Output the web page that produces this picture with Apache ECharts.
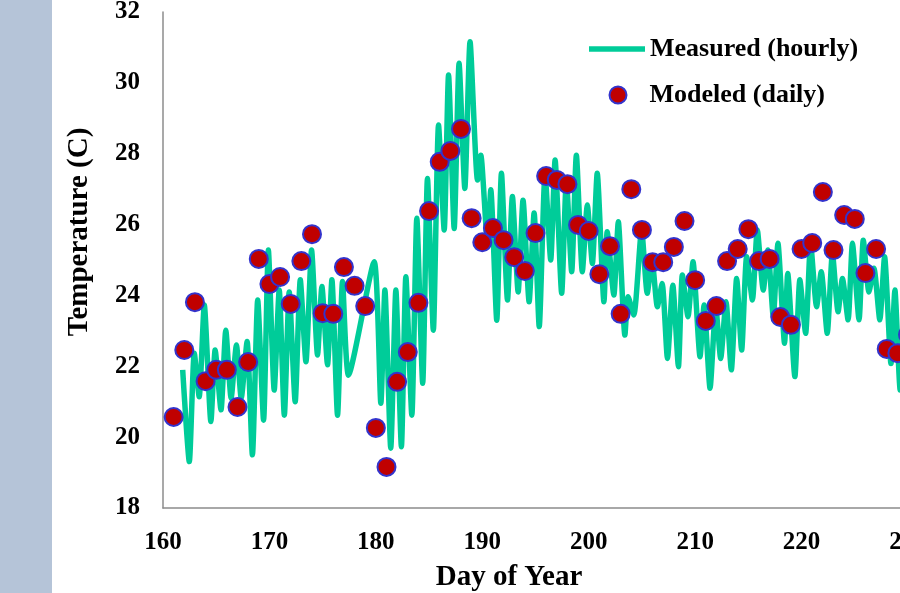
<!DOCTYPE html>
<html>
<head>
<meta charset="utf-8">
<script src="https://cdn.jsdelivr.net/npm/echarts@6/dist/echarts.min.js"></script>
<style>
  html, body { margin: 0; padding: 0; background: #fff; }
  #main { width: 900px; height: 593px; }
</style>
</head>
<body>
<div id="main"></div>
<script>
// measured water temperature at the daily highs / lows
var measuredDay = [
  161.85, 162.47, 162.94, 163.4, 163.88, 164.5, 164.9, 165.45, 165.9, 166.4,
  166.9, 167.35, 167.9, 168.4, 168.9, 169.45, 169.9, 170.45, 170.92, 171.4,
  171.86, 172.42, 172.9, 173.43, 173.96, 174.52, 174.93, 175.46, 175.87, 176.4,
  176.87, 177.43, 179.84, 180.47, 180.85, 181.4, 181.88, 182.4, 182.82, 183.38,
  183.85, 184.4, 184.85, 185.4, 185.89, 186.42, 186.83, 187.36, 187.82, 188.36,
  188.85, 189.55, 189.86, 190.49, 190.8, 191.36, 191.8, 192.37, 192.83, 193.37,
  193.83, 194.4, 194.87, 195.35, 195.9, 196.43, 196.84, 197.46, 197.9, 198.4,
  198.84, 199.4, 199.87, 200.34, 200.8, 201.43, 201.74, 202.36, 202.78, 203.4,
  203.7, 204.24, 204.97, 205.5, 205.95, 206.45, 206.9, 207.4, 207.9, 208.43,
  208.8, 209.33, 209.8, 210.46, 210.84, 211.4, 211.94, 212.4, 212.9, 213.4,
  213.9, 214.37, 214.84, 215.38, 215.84, 216.4, 216.84, 217.34, 217.78, 218.4,
  218.7, 219.37, 219.84, 220.38, 220.85, 221.41, 221.85, 222.41, 222.9, 223.43,
  223.84, 224.37, 224.78, 225.4, 225.8, 226.33, 226.8, 227.35, 227.8, 228.4,
  228.77, 229.27, 229.7
];
var measuredTemp = [
  21.9, 19.31, 22.37, 21.14, 23.73, 20.44, 22.46, 20.77, 23.02, 21.1,
  22.6, 21.1, 22.7, 19.5, 23.87, 20.48, 25.28, 21.33, 24.15, 20.62,
  24.1, 21.0, 24.44, 22.13, 25.28, 22.32, 24.25, 22.04, 24.44, 20.62,
  24.39, 21.75, 24.95, 20.96, 24.15, 19.69, 24.15, 19.73, 24.53, 20.62,
  26.18, 21.52, 27.3, 23.02, 28.81, 25.85, 30.22, 25.89, 30.55, 27.02,
  31.16, 27.26, 27.96, 25.47, 26.98, 23.3, 27.45, 23.87, 26.79, 24.1,
  26.69, 23.82, 26.33, 23.12, 27.45, 25.0, 27.82, 24.06, 27.26, 24.67,
  27.96, 24.67, 26.55, 24.9, 27.45, 23.82, 25.8, 24.01, 26.08, 22.88,
  23.96, 23.45, 25.85, 24.06, 25.0, 23.68, 24.34, 22.22, 24.29, 21.99,
  24.58, 23.4, 24.95, 22.27, 23.73, 21.38, 23.68, 22.22, 23.82, 21.9,
  24.48, 22.46, 25.09, 23.87, 25.85, 24.15, 25.28, 23.4, 25.47, 22.65,
  24.62, 21.71, 24.44, 22.93, 25.47, 23.68, 24.67, 22.93, 25.19, 23.54,
  24.48, 23.31, 25.47, 23.31, 25.56, 24.1, 24.77, 23.31, 25.09, 22.08,
  24.15, 21.33, 23.0
];

// modeled daily means
var modeledDay = [
  161, 162, 163, 164, 165, 166, 167, 168, 169, 170,
  171, 172, 173, 174, 175, 176, 177, 178, 179, 180,
  181, 182, 183, 184, 185, 186, 187, 188, 189, 190,
  191, 192, 193, 194, 195, 196, 197, 198, 199, 200,
  201, 202, 203, 204, 205, 206, 207, 208, 209, 210,
  211, 212, 213, 214, 215, 216, 217, 218, 219, 220,
  221, 222, 223, 224, 225, 226, 227, 228, 229, 230
];
var modeledTemp = [
  20.57, 22.46, 23.81, 21.58, 21.9, 21.9, 20.85, 22.12, 25.03, 24.32,
  24.52, 23.76, 24.97, 25.73, 23.5, 23.48, 24.8, 24.27, 23.7, 20.26,
  19.16, 21.56, 22.4, 23.79, 26.38, 27.77, 28.08, 28.7, 26.18, 25.5,
  25.9, 25.56, 25.08, 24.69, 25.76, 27.37, 27.26, 27.14, 25.99, 25.82,
  24.6, 25.39, 23.48, 27.0, 25.85, 24.94, 24.94, 25.37, 26.1, 24.43,
  23.28, 23.7, 24.97, 25.31, 25.87, 24.97, 25.03, 23.39, 23.17, 25.31,
  25.48, 26.92, 25.28, 26.27, 26.16, 24.63, 25.31, 22.49, 22.37, 22.9
];

var xTicks = [160, 230, 10];
var yTicks = [18, 32, 2];

var serif = '"Liberation Serif", "Times New Roman", serif';

var measured = measuredDay.map(function (d, i) { return [d, measuredTemp[i]]; });
var modeled = modeledDay.map(function (d, i) { return [d, modeledTemp[i]]; });

var myChart = echarts.init(document.getElementById('main'));

myChart.setOption({
    animation: false,
    backgroundColor: '#fff',
    graphic: [
        {
            type: 'rect',
            left: 0,
            top: 0,
            shape: { width: 52, height: 593 },
            style: { fill: '#b5c4d8' }
        },
        {
            type: 'text',
            x: 80,
            y: 232,
            rotation: Math.PI / 2,
            style: {
                text: 'Temperature (C)',
                font: 'bold 29px ' + serif,
                fill: '#000',
                align: 'center',
                verticalAlign: 'middle'
            }
        },
        {
            type: 'text',
            x: 509,
            y: 578,
            style: {
                text: 'Day of Year',
                font: 'bold 29px ' + serif,
                fill: '#000',
                align: 'center',
                verticalAlign: 'middle'
            }
        }
    ],
    legend: [
        {
            data: [{ name: 'Measured (hourly)', icon: 'path://M0,0H56V5.5H0Z' }],
            left: 584,
            top: 31,
            itemWidth: 56,
            itemHeight: 5.5,
            textStyle: { fontFamily: serif, fontWeight: 'bold', fontSize: 26, color: '#000' }
        },
        {
            data: [{ name: 'Modeled (daily)', icon: 'circle' }],
            left: 603.5,
            top: 77,
            itemWidth: 17,
            itemHeight: 17,
            textStyle: {
                fontFamily: serif, fontWeight: 'bold', fontSize: 26, color: '#000',
                padding: [0, 0, 0, 18]
            }
        }
    ],
    grid: {
        left: 163,
        top: 12,
        width: 745,
        height: 496,
        outerBoundsMode: 'none'
    },
    xAxis: {
        type: 'value',
        min: xTicks[0],
        max: xTicks[1],
        interval: xTicks[2],
        axisLine: { lineStyle: { color: '#8c8c8c', width: 1.5 } },
        axisTick: { show: false },
        splitLine: { show: false },
        axisLabel: {
            margin: 22,
            fontFamily: serif,
            fontWeight: 'bold',
            fontSize: 25,
            color: '#000'
        }
    },
    yAxis: {
        type: 'value',
        min: yTicks[0],
        max: yTicks[1],
        interval: yTicks[2],
        axisLine: { show: true, lineStyle: { color: '#8c8c8c', width: 1.5 } },
        axisTick: { show: false },
        splitLine: { show: false },
        axisLabel: {
            margin: 23,
            fontFamily: serif,
            fontWeight: 'bold',
            fontSize: 25,
            color: '#000'
        }
    },
    series: [
        {
            name: 'Measured (hourly)',
            type: 'line',
            data: measured,
            symbol: 'none',
            smooth: 0.2,
            z: 2,
            lineStyle: { color: '#00cc99', width: 5.5 },
            itemStyle: { color: '#00cc99' }
        },
        {
            name: 'Modeled (daily)',
            type: 'scatter',
            data: modeled,
            symbol: 'circle',
            symbolSize: 18,
            z: 5,
            itemStyle: {
                color: '#c00000',
                borderColor: '#3333cc',
                borderWidth: 2,
                opacity: 1
            }
        }
    ]
});
</script>
</body>
</html>
